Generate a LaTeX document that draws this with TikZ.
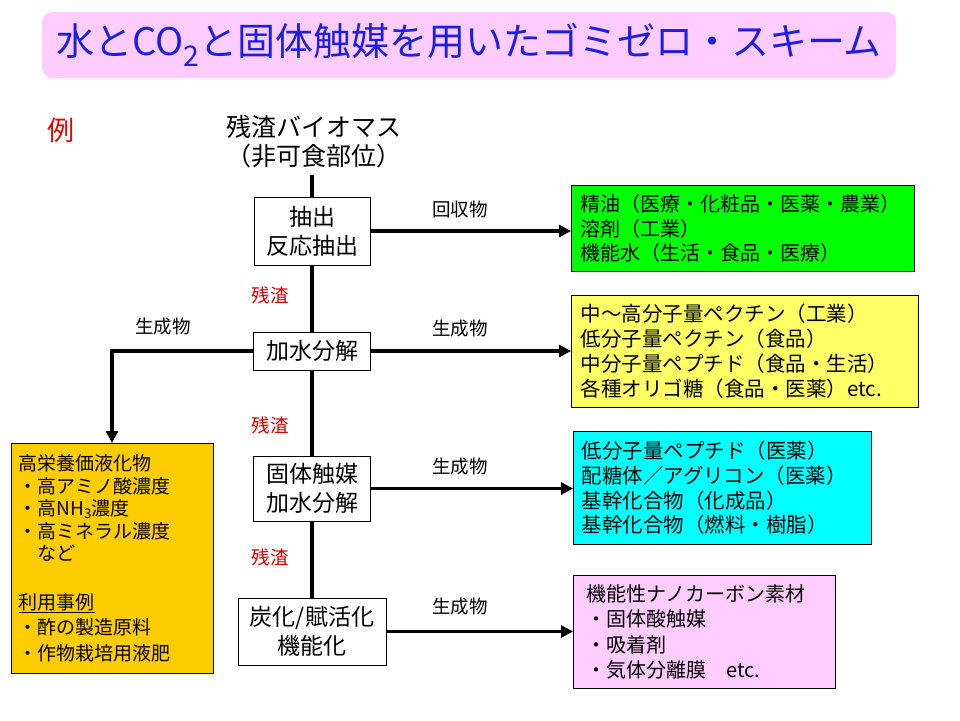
\documentclass[tikz,border=0pt]{standalone}
\usepackage{fontspec}
\setmainfont{Noto Sans CJK JP}
\usetikzlibrary{arrows.meta}
\definecolor{pinkbg}{RGB}{255,204,255}
\definecolor{titleblue}{RGB}{30,30,225}
\definecolor{greenbg}{RGB}{0,255,0}
\definecolor{yellowbg}{RGB}{255,255,102}
\definecolor{cyanbg}{RGB}{0,255,255}
\definecolor{orangebg}{RGB}{255,204,0}
\definecolor{zanred}{RGB}{204,0,0}
\definecolor{exred}{RGB}{230,0,0}
\newcommand{\fsinfo}{\fontsize{20pt}{24.6pt}\selectfont}
\newcommand{\fsbox}{\fontsize{23pt}{29pt}\selectfont}
\newcommand{\fslbl}{\fontsize{18.5pt}{22pt}\selectfont}
\newcommand{\mysub}[1]{\raisebox{-0.3em}{\scalebox{0.75}{#1}}}
\newcommand{\smsub}[1]{\raisebox{-0.15em}{\scalebox{0.7}{#1}}}
\begin{document}
\begin{tikzpicture}[x=1pt,y=-1pt,
  proc/.style={draw,line width=1pt,fill=white,align=center,font=\fsbox,inner sep=0pt},
  info/.style={draw,line width=1pt,anchor=north west,align=left,inner xsep=9pt,inner ysep=0pt,font=\fsinfo},
  flow/.style={line width=3.5pt},
  arr/.style={flow,-{Triangle[length=12pt,width=12pt]}},
  lbl/.style={font=\fslbl},
  zan/.style={font=\fslbl,text=zanred}]
\useasboundingbox (0,0) rectangle (960,720);
% title
\node[fill=pinkbg,rounded corners=10pt,minimum width=854pt,minimum height=66pt,inner sep=0pt,
  text=titleblue,font=\fontsize{38pt}{42pt}\selectfont] (title) at (469,45)
  {水とCO\mysub{2}と固体触媒を用いたゴミゼロ・スキーム};
\node[text=exred,font=\fontsize{27pt}{30pt}\selectfont] (ex) at (61,130) {例};
% source
\node[align=center,font=\fontsize{25pt}{29pt}\selectfont,inner sep=2pt] (bio) at (314,142)
  {残渣バイオマス\\（非可食部位）};
% process boxes
\node[proc,minimum width=116pt,minimum height=68pt] (b1) at (312,231) {抽出\\反応抽出};
\node[proc,minimum width=117pt,minimum height=38pt] (b2) at (312,351) {加水分解};
\node[proc,minimum width=117pt,minimum height=65pt] (b3) at (312,488.5) {固体触媒\\加水分解};
\node[proc,minimum width=148pt,minimum height=67pt] (b4) at (312,631.5) {炭化/賦活化\\機能化};
% vertical flow
\draw[flow] ([yshift=-4pt]bio.south -| b1.north) -- (b1.north);
\draw[flow] (b1.south) -- (b2.north);
\draw[flow] (b2.south) -- (b3.north);
\draw[flow] (b3.south) -- (b4.north);
\node[zan] (z1) at (270,295) {残渣};
\node[zan] (z2) at (270,425) {残渣};
\node[zan] (z3) at (270,557) {残渣};
% product boxes
\node[info,fill=greenbg,minimum width=343pt,minimum height=86pt,text width=325pt] (g) at (571,185)
  {精油（医療・化粧品・医薬・農業）\\溶剤（工業）\\機能水（生活・食品・医療）};
\node[info,fill=yellowbg,minimum width=347pt,minimum height=112pt,text width=329pt,
  font=\fontsize{20.5pt}{25pt}\selectfont] (y) at (571,295)
  {中〜高分子量ペクチン（工業）\\低分子量ペクチン（食品）\\中分子量ペプチド（食品・生活）\\各種オリゴ糖（食品・医薬）etc.};
\node[info,fill=cyanbg,minimum width=298pt,minimum height=113pt,text width=282pt,inner xsep=8pt,
  font=\fontsize{20.5pt}{24.6pt}\selectfont] (c) at (573,431)
  {低分子量ペプチド（医薬）\\配糖体／アグリコン（医薬）\\基幹化合物（化成品）\\基幹化合物（燃料・樹脂）};
\node[info,fill=pinkbg,minimum width=262pt,minimum height=113pt,text width=236pt,inner xsep=13pt,
  font=\fontsize{20pt}{25.5pt}\selectfont] (p) at (573,575)
  {機能性ナノカーボン素材\\・固体酸触媒\\・吸着剤\\・気体分離膜\quad etc.};
\node[info,fill=orangebg,minimum width=202pt,minimum height=230pt,text width=188pt,inner xsep=7pt,
  font=\fontsize{19pt}{22.5pt}\selectfont] (o) at (11,443)
  {高栄養価液化物\\・高アミノ酸濃度\\・高NH\smsub{3}濃度\\・高ミネラル濃度\\\hspace*{1em}など\\[26pt]\underline{利用事例}\\[3pt]・酢の製造原料\\[3pt]・作物栽培用液肥};
% arrows
\draw[arr] (b1.east) -- (b1.east -| g.west);
\draw[arr] (b2.east) -- (b2.east -| y.west);
\draw[arr] (b3.east) -- (b3.east -| c.west);
\draw[arr] (b4.east) -- (b4.east -| p.west);
\draw[arr] (b2.west) -| ([xshift=101pt]o.north west);
% labels
\node[lbl] (l1) at (460,209) {回収物};
\node[lbl] (l2) at (460,329) {生成物};
\node[lbl] (l3) at (460,467) {生成物};
\node[lbl] (l4) at (460,607) {生成物};
\node[lbl] (l5) at (163,327) {生成物};
\end{tikzpicture}
\end{document}
